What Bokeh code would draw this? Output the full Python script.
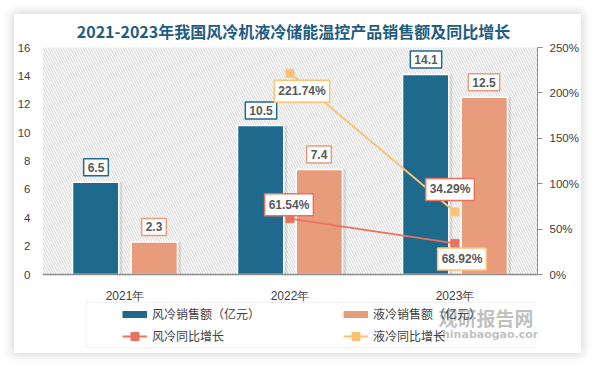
from bokeh.plotting import figure
from bokeh.models import (ColumnDataSource, FactorRange, Range1d, LinearAxis, Label,
                          BoxAnnotation, Legend, LegendItem, FixedTicker, PrintfTickFormatter)
from bokeh.transform import dodge
from bokeh.embed import file_html
from bokeh.resources import INLINE

# ---------------- data ----------------
years = ["2021年", "2022年", "2023年"]
air_sales = [6.5, 10.5, 14.1]          # 风冷销售额（亿元）
liquid_sales = [2.3, 7.4, 12.5]        # 液冷销售额（亿元）
growth_years = ["2022年", "2023年"]
air_growth = [61.54, 34.29]            # 风冷同比增长 (%)
liquid_growth = [221.74, 68.92]        # 液冷同比增长 (%)
left_ticks = [0, 2, 4, 6, 8, 10, 12, 14, 16]
right_ticks = [0, 50, 100, 150, 200, 250]

TITLE = "2021-2023年我国风冷机液冷储能温控产品销售额及同比增长"

# ---------------- style ----------------
BLUE = "#1D6A8D"
ORANGE = "#E99C7C"
RED = "#E9735F"
YELLOW = "#FCC274"
TXT = "#404040"
LBL = "#595959"
NUM = "Liberation Sans"
CJK = "Noto Sans CJK SC"

# label offsets (screen px) for line data labels
air_lbl_dx = [-1, -5]
air_lbl_dy = [14, 54]
liq_lbl_dx = [12, 7]
liq_lbl_dy = [-18, -47]

# frame covers the whole card vertically; plot area is 0..16 (0..250%)
Y_LO, Y_HI = -5.567, 18.326
P_LO, P_HI = Y_LO * 250 / 16, Y_HI * 250 / 16

p = figure(width=567, height=339, x_range=FactorRange(*years), y_range=Range1d(Y_LO, Y_HI),
           output_backend="svg", toolbar_location=None,
           min_border_left=28, min_border_right=44, min_border_top=0, min_border_bottom=0)
p.styles = {"margin-left": "14px", "margin-top": "14px",
            "box-shadow": "0px 0px 9px 2px rgba(0,0,0,0.16)"}
p.extra_y_ranges = {"pct": Range1d(P_LO, P_HI)}
p.outline_line_color = None
p.grid.grid_line_color = None
p.border_fill_color = "white"
p.background_fill_color = "white"

# hatch background of plot area
hatch = BoxAnnotation(bottom=0, top=16, fill_alpha=0, line_color=None, hatch_pattern="\\",
                      hatch_color="#d4d4d4", hatch_scale=5, hatch_weight=1, level="underlay")
p.add_layout(hatch)

# axes
p.yaxis.ticker = FixedTicker(ticks=left_ticks)
p.yaxis.bounds = (0, 16)
p.yaxis.axis_line_color = None
p.yaxis.major_tick_line_color = None
p.yaxis.major_tick_out = 0
p.yaxis.major_tick_in = 0
p.yaxis.minor_tick_line_color = None
p.yaxis.minor_tick_out = 0
p.yaxis.minor_tick_in = 0
p.yaxis.major_label_standoff = 12
p.yaxis.major_label_text_font = NUM
p.yaxis.major_label_text_font_size = "11.5px"
p.yaxis.major_label_text_color = TXT

p.xaxis.fixed_location = 0
p.xaxis.axis_line_color = "#8c8c8c"
p.xaxis.axis_line_width = 1.5
p.xaxis.major_tick_line_color = None
p.xaxis.major_label_standoff = 8
p.xaxis.major_label_text_font = NUM
p.xaxis.major_label_text_font_size = "12px"
p.xaxis.major_label_text_color = TXT

raxis = LinearAxis(y_range_name="pct", ticker=FixedTicker(ticks=right_ticks),
                   formatter=PrintfTickFormatter(format="%d%%"), bounds=(0, 250))
raxis.axis_line_color = "#8c8c8c"
raxis.major_tick_line_color = "#8c8c8c"
raxis.major_tick_out = 5
raxis.major_tick_in = 0
raxis.minor_tick_line_color = None
raxis.minor_tick_out = 0
raxis.minor_tick_in = 0
raxis.major_label_standoff = 7
raxis.major_label_text_font = NUM
raxis.major_label_text_font_size = "11.5px"
raxis.major_label_text_color = TXT
p.add_layout(raxis, "right")

# bars
src = ColumnDataSource(dict(year=years, air=air_sales, liq=liquid_sales))
OFF = 0.178
W = 0.28
BAR_PX = 29  # screen offset of bar centres from group centre
for off, col in ((-OFF, "air"), (OFF, "liq")):
    p.vbar(x=dodge("year", off + 0.022, range=p.x_range), top=col, width=W, source=src,
           fill_color="black", fill_alpha=0.10, line_color=None)
p.vbar(x=dodge("year", -OFF, range=p.x_range), top="air", width=W, source=src,
       fill_color=BLUE, line_color="white", line_width=1.5)
p.vbar(x=dodge("year", OFF, range=p.x_range), top="liq", width=W, source=src,
       fill_color=ORANGE, line_color="white", line_width=1.5)


def cat_x(yr):
    # synthetic coordinate of the centre of a category in the FactorRange
    return years.index(yr) + 0.5


def box_label(yr, y, txt, border, dx=0, dy=0, rng="default"):
    p.add_layout(Label(x=cat_x(yr), y=y, text=txt, x_offset=dx, y_offset=dy, y_range_name=rng,
                       text_align="center", text_baseline="middle",
                       text_font=NUM, text_font_style="bold", text_font_size="12px",
                       text_color=LBL, background_fill_color="white",
                       border_line_color=border, border_line_width=1.5, padding=4))


for yr, a, l in zip(years, air_sales, liquid_sales):
    box_label(yr, a, f"{a}", BLUE, dx=-BAR_PX, dy=15)
    box_label(yr, l, f"{l}", ORANGE, dx=BAR_PX, dy=15)

# growth lines
gsrc = ColumnDataSource(dict(year=growth_years, air=air_growth, liq=liquid_growth))
rl = p.line(x="year", y="air", source=gsrc, y_range_name="pct", line_color=RED, line_width=2)
rs = p.scatter(x="year", y="air", source=gsrc, y_range_name="pct", marker="square", size=8,
               fill_color=RED, line_color=RED)
yl = p.line(x="year", y="liq", source=gsrc, y_range_name="pct", line_color=YELLOW, line_width=2)
ys = p.scatter(x="year", y="liq", source=gsrc, y_range_name="pct", marker="square", size=8,
               fill_color=YELLOW, line_color=YELLOW)

for i, yr in enumerate(growth_years):
    box_label(yr, air_growth[i], f"{air_growth[i]:.2f}%", RED, air_lbl_dx[i], air_lbl_dy[i], "pct")
    box_label(yr, liquid_growth[i], f"{liquid_growth[i]:.2f}%", YELLOW, liq_lbl_dx[i], liq_lbl_dy[i], "pct")

# watermark (drawn under legend text)
p.add_layout(Label(x=396, y=36, x_units="screen", y_units="screen", text="观研报告网",
                   text_align="left", text_baseline="middle", text_font=CJK,
                   text_font_style="bold", text_font_size="19px", text_color="#8a8a8a", text_alpha=0.55))
p.add_layout(Label(x=393, y=19, x_units="screen", y_units="screen", text="chinabaogao.com",
                   text_align="left", text_baseline="middle", text_font="DejaVu Sans",
                   text_font_style="bold", text_font_size="11px", text_color="#8a8a8a", text_alpha=0.55))

# legend (single-point lines: they draw nothing in the plot, only the legend swatch)
bl = p.line(x=years[:1], y=air_sales[:1], line_color=BLUE, line_width=7)
ol = p.line(x=years[:1], y=liquid_sales[:1], line_color=ORANGE, line_width=7)
legend_box = BoxAnnotation(left=43.5, right=496, bottom=6, top=51,
                           left_units="screen", right_units="screen", bottom_units="screen", top_units="screen",
                           fill_alpha=0, line_color="#d4d4d4", line_width=1)
p.add_layout(legend_box)
legend = Legend(items=[LegendItem(label="风冷销售额（亿元）", renderers=[bl]),
                       LegendItem(label="液冷销售额（亿元）", renderers=[ol]),
                       LegendItem(label="风冷同比增长", renderers=[rl, rs]),
                       LegendItem(label="液冷同比增长", renderers=[yl, ys])],
                location=(80, 7.5), orientation="horizontal", ncols=2,
                padding=0, spacing=2, margin=0, border_line_color=None, background_fill_alpha=0,
                glyph_width=25, glyph_height=20, label_standoff=5, label_width=189,
                label_text_font=CJK, label_text_font_size="12px", label_text_color=TXT)
p.add_layout(legend)

# title
p.add_layout(Label(x=251, y=323, x_units="screen", y_units="screen", text=TITLE,
                   text_align="center", text_baseline="middle", text_font=CJK,
                   text_font_style="bold", text_font_size="16px", text_color="#1E5C80"))

open("out.html", "w").write(file_html(p, INLINE))
